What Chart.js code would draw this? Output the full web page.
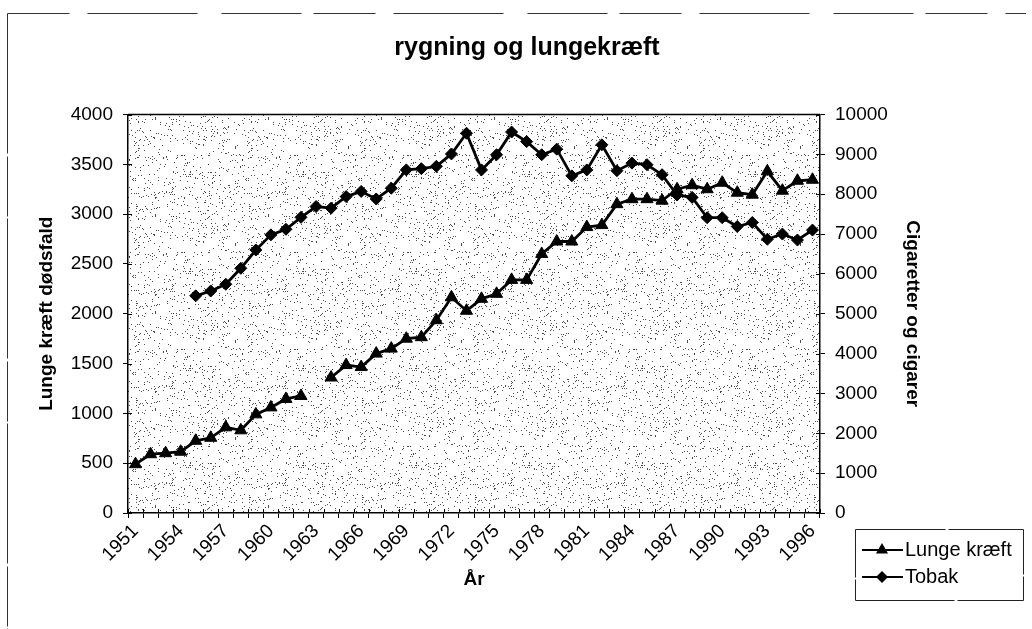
<!DOCTYPE html>
<html>
<head>
<meta charset="utf-8">
<script src="https://cdn.jsdelivr.net/npm/chart.js@4"></script>
<style>
  html, body { margin: 0; padding: 0; background: #fff; }
</style>
</head>
<body>
<canvas id="rygning" width="1032" height="629"></canvas>
<script>
const years = ['1951', '1952', '1953', '1954', '1955', '1956', '1957', '1958', '1959', '1960',
  '1961', '1962', '1963', '1964', '1965', '1966', '1967', '1968', '1969', '1970',
  '1971', '1972', '1973', '1974', '1975', '1976', '1977', '1978', '1979', '1980',
  '1981', '1982', '1983', '1984', '1985', '1986', '1987', '1988', '1989', '1990',
  '1991', '1992', '1993', '1994', '1995', '1996'];

// lung cancer deaths (left axis), 1963 missing
const lungeKraeft = [490, 590, 600, 615, 725, 755, 860, 830, 990, 1060,
  1145, 1175, null, 1360, 1485, 1465, 1600, 1650, 1750, 1765,
  1935, 2165, 2030, 2150, 2200, 2340, 2340, 2600, 2725, 2725,
  2870, 2890, 3100, 3150, 3150, 3135, 3250, 3290, 3250, 3315,
  3215, 3195, 3430, 3235, 3335, 3345];

// cigarettes and cigars (right axis), starts 1955
const tobak = [null, null, null, null, 5450, 5570, 5740, 6140, 6600, 6980,
  7120, 7420, 7690, 7650, 7940, 8070, 7880, 8150, 8610, 8640,
  8700, 9010, 9530, 8610, 8990, 9560, 9320, 8990, 9130, 8460,
  8610, 9240, 8590, 8780, 8740, 8490, 7980, 7920, 7410, 7410,
  7190, 7290, 6870, 7000, 6850, 7100];

const FONT = '"Liberation Sans", Arial, sans-serif';

function makeStipple() {
  const c = document.createElement('canvas');
  c.width = 113; c.height = 97;
  const g = c.getContext('2d');
  g.fillStyle = 'rgba(30,30,30,0.8)';
  let s = 12345;
  for (let i = 0; i < 520; i++) {
    s = (s * 16807) % 2147483647;
    const x = s % 113;
    s = (s * 16807) % 2147483647;
    const y = s % 97;
    g.fillRect(x, y, 1, 1);
  }
  return c;
}

const plotBackground = {
  id: 'plotBackground',
  beforeDraw(chart) {
    const { ctx, chartArea: a } = chart;
    ctx.save();
    ctx.fillStyle = '#fff';
    ctx.fillRect(0, 0, chart.width, chart.height);
    ctx.fillStyle = ctx.createPattern(makeStipple(), 'repeat');
    ctx.fillRect(a.left, a.top, a.right - a.left, a.bottom - a.top);
    // scanned page frame
    ctx.strokeStyle = '#333';
    ctx.lineWidth = 1;
    ctx.setLineDash([62, 18, 110, 24, 80, 12]);
    ctx.beginPath();
    ctx.moveTo(7.5, 13.5);
    ctx.lineTo(1026, 13.5);
    ctx.stroke();
    ctx.setLineDash([140, 3, 60, 2]);
    ctx.beginPath();
    ctx.moveTo(7.5, 13.5);
    ctx.lineTo(7.5, 629);
    ctx.stroke();
    ctx.restore();
  }
};

const innerTicks = {
  id: 'innerTicks',
  afterDraw(chart) {
    const { ctx, chartArea: a, scales } = chart;
    ctx.save();
    ctx.strokeStyle = '#000';
    ctx.lineWidth = 1;
    ctx.beginPath();
    scales.y.ticks.forEach(t => {
      const py = Math.round(scales.y.getPixelForValue(t.value)) + 0.5;
      ctx.moveTo(a.left, py); ctx.lineTo(a.left + 4, py);
    });
    scales.y2.ticks.forEach(t => {
      const py = Math.round(scales.y2.getPixelForValue(t.value)) + 0.5;
      ctx.moveTo(a.right - 4, py); ctx.lineTo(a.right, py);
    });
    for (let i = 0; i <= years.length; i++) {
      const px = Math.round(scales.x.getPixelForValue(i - 0.5)) + 0.5;
      ctx.moveTo(px, a.bottom); ctx.lineTo(px, a.bottom - 4);
    }
    ctx.stroke();
    ctx.lineWidth = 1.5;
    ctx.beginPath();
    ctx.moveTo(a.left, a.top);
    ctx.lineTo(a.right, a.top);
    ctx.stroke();
    ctx.restore();
  }
};

function marker(ctx, style, x, y, r) {
  ctx.beginPath();
  if (style === 'triangle') {
    ctx.moveTo(x, y - r);
    ctx.lineTo(x + r * 0.866, y + r * 0.5);
    ctx.lineTo(x - r * 0.866, y + r * 0.5);
  } else {
    ctx.moveTo(x, y - r);
    ctx.lineTo(x + r, y);
    ctx.lineTo(x, y + r);
    ctx.lineTo(x - r, y);
  }
  ctx.closePath();
  ctx.fill();
}

const boxLegend = {
  id: 'boxLegend',
  afterDraw(chart) {
    const ctx = chart.ctx;
    ctx.save();
    ctx.strokeStyle = '#222';
    ctx.lineWidth = 1;
    ctx.setLineDash([90, 3, 120, 2]);
    ctx.strokeRect(855.5, 529.5, 168, 71);
    ctx.setLineDash([]);
    chart.data.datasets.forEach((ds, i) => {
      const y = 550 + i * 27;
      ctx.strokeStyle = '#000';
      ctx.fillStyle = '#000';
      ctx.lineWidth = 2;
      ctx.beginPath();
      ctx.moveTo(862, y); ctx.lineTo(903, y);
      ctx.stroke();
      marker(ctx, ds.pointStyle, 882, y, ds.pointRadius);
      ctx.font = '20px ' + FONT;
      ctx.textBaseline = 'middle';
      ctx.textAlign = 'left';
      ctx.fillText(ds.label, 905, y);
    });
    ctx.restore();
  }
};

const tickFont = { family: FONT, size: 19 };
const titleFont = { family: FONT, size: 19, weight: 'bold' };
const plain = v => String(v);

new Chart(document.getElementById('rygning'), {
  type: 'line',
  data: {
    labels: years,
    datasets: [
      {
        label: 'Lunge kræft',
        data: lungeKraeft,
        yAxisID: 'y',
        borderColor: '#000',
        backgroundColor: '#000',
        borderWidth: 2.8,
        pointStyle: 'triangle',
        pointRadius: 7,
        pointBorderWidth: 1,
        pointBackgroundColor: '#000',
        pointBorderColor: '#000',
        tension: 0
      },
      {
        label: 'Tobak',
        data: tobak,
        yAxisID: 'y2',
        borderColor: '#000',
        backgroundColor: '#000',
        borderWidth: 2.8,
        pointStyle: 'rectRot',
        pointRadius: 6,
        pointBorderWidth: 1,
        pointBackgroundColor: '#000',
        pointBorderColor: '#000',
        tension: 0
      }
    ]
  },
  options: {
    responsive: false,
    animation: false,
    layout: { padding: { left: 22, right: 0, top: 0, bottom: 0 } },
    plugins: {
      legend: { display: false },
      tooltip: { enabled: false },
      title: {
        display: true,
        text: 'rygning og lungekræft',
        color: '#000',
        font: { family: FONT, size: 25, weight: 'bold' },
        padding: { top: 33, bottom: 51.5 }
      }
    },
    scales: {
      x: {
        type: 'category',
        offset: true,
        grid: { offset: true, drawOnChartArea: false, drawTicks: true, tickLength: 5, color: '#000' },
        border: { display: true, color: '#000', width: 1.5 },
        ticks: {
          autoSkip: false,
          maxRotation: 45,
          minRotation: 45,
          padding: 2,
          color: '#000',
          font: tickFont,
          callback(v, i) { return i % 3 === 0 ? this.getLabelForValue(v) : ''; }
        },
        title: { display: true, text: 'År', color: '#000', font: titleFont, padding: { top: 0, bottom: 38 } },
        afterFit(s) { s.height = 116; }
      },
      y: {
        position: 'left',
        min: 0,
        max: 4000,
        grid: { drawOnChartArea: false, tickLength: 5, color: '#000' },
        border: { display: true, color: '#000', width: 1.5 },
        ticks: { stepSize: 500, padding: 10, color: '#000', font: tickFont, callback: plain },
        title: { display: true, text: 'Lunge kræft dødsfald', color: '#000', font: titleFont, padding: { top: 13, bottom: 0 } },
        afterFit(s) { s.width = 106; }
      },
      y2: {
        position: 'right',
        min: 0,
        max: 10000,
        grid: { drawOnChartArea: false, tickLength: 5, color: '#000' },
        border: { display: true, color: '#000', width: 1.5 },
        ticks: { stepSize: 1000, padding: 10, color: '#000', font: tickFont, callback: plain },
        title: { display: true, text: 'Cigaretter og cigarer', color: '#000', font: titleFont, padding: { top: 108, bottom: 0 } },
        afterFit(s) { s.width = 212; }
      }
    }
  },
  plugins: [plotBackground, innerTicks, boxLegend]
});
</script>
</body>
</html>
